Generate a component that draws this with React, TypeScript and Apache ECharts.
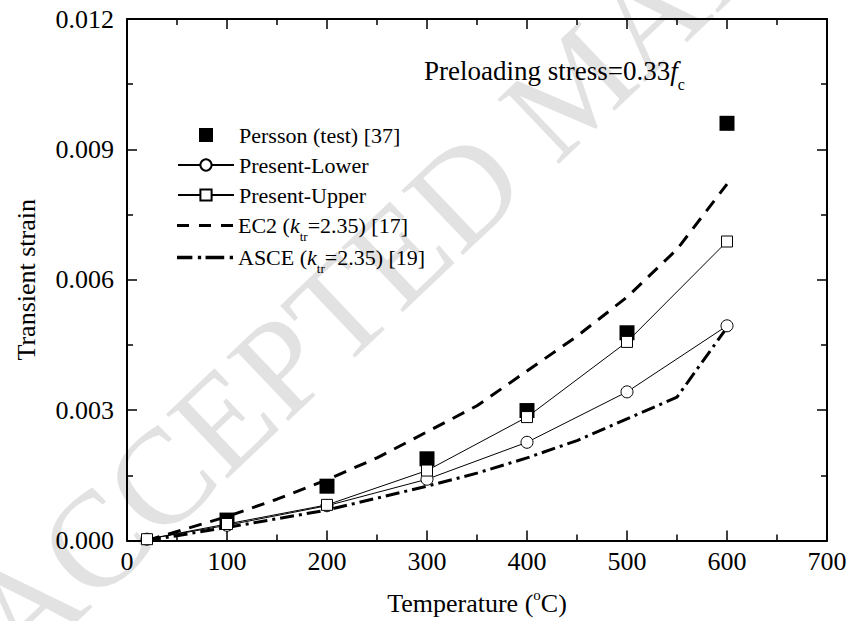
import React, { useEffect, useRef } from 'react';
import * as echarts from 'echarts';

const FONT = 'Liberation Serif';

// Temperatures (°C) of the computed points
const temps = [20, 100, 200, 300, 400, 500, 600];
// Persson test data
const perssonTemps = [100, 200, 300, 400, 500, 600];
const perssonTest = [0.00047, 0.00125, 0.00188, 0.00299, 0.00478, 0.0096];
// Present model bounds
const presentLower = [0.00003, 0.00035, 0.0008, 0.00141, 0.00226, 0.00342, 0.00494];
const presentUpper = [0.00003, 0.00038, 0.00082, 0.00161, 0.00284, 0.00457, 0.00688];
// EC2 curve
const ec2Temps = [20, 100, 150, 200, 250, 300, 350, 400, 450, 500, 550, 600];
const ec2 = [0, 0.00055, 0.00095, 0.0014, 0.0019, 0.0025, 0.0031, 0.0039, 0.0047, 0.0056, 0.0067, 0.0082];
// ASCE curve
const asceTemps = [20, 100, 200, 300, 350, 400, 450, 500, 550, 600];
const asce = [0, 0.0003, 0.0007, 0.00125, 0.00155, 0.0019, 0.0023, 0.0028, 0.0033, 0.0049];

const seriesNames = ['Persson (test) [37]', 'Present-Lower', 'Present-Upper', 'EC2 (k_tr=2.35) [17]', 'ASCE (k_tr=2.35) [19]'];
const legendLabels: Record<string, string> = {
  'Persson (test) [37]': 'Persson (test) [37]',
  'Present-Lower': 'Present-Lower',
  'Present-Upper': 'Present-Upper',
  'EC2 (k_tr=2.35) [17]': 'EC2 ({i|k}{s|tr}=2.35) [17]',
  'ASCE (k_tr=2.35) [19]': 'ASCE ({i|k}{s|tr}=2.35) [19]',
};

const xMin = 0, xMax = 700, xInterval = 100;
const yMin = 0, yMax = 0.012, yInterval = 0.003;

const pairs = (xs: number[], ys: number[]) => xs.map((x, i) => [x, ys[i]]);

export default function App() {
  const ref = useRef<HTMLDivElement>(null);
  useEffect(() => {
    if (!ref.current) return;
    const chart = echarts.init(ref.current, undefined, { renderer: 'svg' });
    const axisLine = { show: true, onZero: false, lineStyle: { color: '#000', width: 2 } };
    const axisTick = { show: true, inside: true, length: 10, lineStyle: { color: '#000', width: 1.5 } };
    const minorTick = { show: true, splitNumber: 2, length: 6, lineStyle: { color: '#000', width: 1.5 } };
    const legendText = {
      fontSize: 22, fontFamily: FONT, color: '#000', lineHeight: 26,
      rich: {
        i: { fontSize: 22, fontFamily: FONT, fontStyle: 'italic', color: '#000', lineHeight: 26 },
        s: { fontSize: 13, fontFamily: FONT, color: '#000', padding: [22, 0, 0, 0], lineHeight: 26 },
      },
    };
    const legendCommon = {
      orient: 'vertical', left: 172, itemWidth: 56, itemHeight: 14,
      selectedMode: false, textStyle: legendText,
      formatter: (name: string) => legendLabels[name] || name,
    };
    const option: any = {
      animation: false,
      backgroundColor: '#fff',
      grid: { left: 127, right: 24, top: 19, bottom: 79, containLabel: false },
      graphic: [
        {
          type: 'text', x: 575, y: 85, rotation: 0.76, z: -100, silent: true,
          style: { text: 'ACCEPTED MANUSCRIPT', fontSize: 136, fontFamily: FONT, fill: '#e2e2e2', align: 'center', verticalAlign: 'middle' },
        },
        {
          type: 'text', x: 424, y: 71, z: 10,
          style: {
            text: 'Preloading stress=0.33{i|f}{s|c}', fontSize: 27, fontFamily: FONT, fill: '#000', align: 'left', verticalAlign: 'middle',
            rich: {
              i: { fontSize: 27, fontFamily: FONT, fontStyle: 'italic', fill: '#000' },
              s: { fontSize: 16, fontFamily: FONT, fill: '#000', padding: [26, 0, 0, 0], lineHeight: 30 },
            },
          },
        },
      ],
      legend: [
        {
          ...legendCommon, top: 117, itemGap: 4,
          data: [
            { name: seriesNames[0], icon: 'path://M0,0h15v15h-15z' },
            { name: seriesNames[1] },
            { name: seriesNames[2] },
          ],
        },
        {
          ...legendCommon, top: 203, itemGap: -3,
          data: [
            { name: seriesNames[3], icon: 'path://M0,0h12v3h-12z M22,0h12v3h-12z M44,0h12v3h-12z' },
            { name: seriesNames[4], icon: 'path://M0,0h14v3h-14z M19,0h3v3h-3z M26,0h17v3h-17z M48,0h3v3h-3z' },
          ],
        },
      ],
      xAxis: [
        {
          type: 'value', min: xMin, max: xMax, interval: xInterval, position: 'bottom',
          axisLine, axisTick, minorTick,
          splitLine: { show: false }, minorSplitLine: { show: false },
          axisLabel: { color: '#000', fontSize: 26, fontFamily: FONT, margin: 8 },
          name: 'Temperature ({sup|o}C)', nameLocation: 'middle', nameGap: 47,
          nameTextStyle: {
            color: '#000', fontSize: 26, fontFamily: FONT,
            rich: { sup: { fontSize: 15, fontFamily: FONT, color: '#000', padding: [0, 0, 16, 0] } },
          },
        },
        {
          type: 'value', min: xMin, max: xMax, interval: xInterval, position: 'top',
          axisLine, axisTick, minorTick,
          splitLine: { show: false }, axisLabel: { show: false },
        },
      ],
      yAxis: [
        {
          type: 'value', min: yMin, max: yMax, interval: yInterval, position: 'left',
          axisLine, axisTick, minorTick,
          splitLine: { show: false }, minorSplitLine: { show: false },
          axisLabel: { color: '#000', fontSize: 26, fontFamily: FONT, margin: 13, formatter: (v: number) => v.toFixed(3) },
          name: 'Transient strain', nameLocation: 'middle', nameGap: 88, nameRotate: 90,
          nameTextStyle: { color: '#000', fontSize: 26, fontFamily: FONT },
        },
        {
          type: 'value', min: yMin, max: yMax, interval: yInterval, position: 'right',
          axisLine, axisTick, minorTick,
          splitLine: { show: false }, axisLabel: { show: false },
        },
      ],
      series: [
        {
          name: seriesNames[0], type: 'scatter', data: pairs(perssonTemps, perssonTest),
          symbol: 'rect', symbolSize: 15, itemStyle: { color: '#000', opacity: 1 }, z: 3,
        },
        {
          name: seriesNames[1], type: 'line', data: pairs(temps, presentLower),
          symbol: 'circle', symbolSize: 12, showSymbol: true,
          lineStyle: { color: '#000', width: 1 },
          itemStyle: { color: '#fff', borderColor: '#000', borderWidth: 1 }, z: 4,
        },
        {
          name: seriesNames[2], type: 'line', data: pairs(temps, presentUpper),
          symbol: 'rect', symbolSize: 11, showSymbol: true,
          lineStyle: { color: '#000', width: 1 },
          itemStyle: { color: '#fff', borderColor: '#000', borderWidth: 1 }, z: 5,
        },
        {
          name: seriesNames[3], type: 'line', data: pairs(ec2Temps, ec2),
          symbol: 'none', showSymbol: false,
          lineStyle: { color: '#000', width: 3, type: [13, 9] },
          itemStyle: { color: '#000' }, z: 2,
        },
        {
          name: seriesNames[4], type: 'line', data: pairs(asceTemps, asce),
          symbol: 'none', showSymbol: false,
          lineStyle: { color: '#000', width: 3, type: [14, 5, 3, 5] },
          itemStyle: { color: '#000' }, z: 2,
        },
      ],
    };
    chart.setOption(option);
    return () => chart.dispose();
  }, []);
  return (
    <div
      ref={ref}
      style={{ position: 'fixed', left: 0, top: 0, width: 851, height: 621, background: '#fff' }}
    />
  );
}
